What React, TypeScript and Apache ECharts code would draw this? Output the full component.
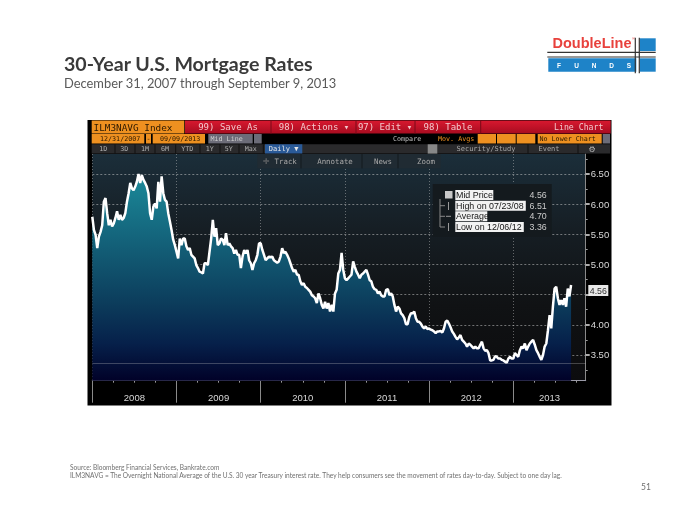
import React, { useEffect, useRef } from "react";
import * as echarts from "echarts";

const rates2008 = [5.79,5.57,5.49,5.27,5.46,5.54,5.65,6.04,6.10,5.85,5.65,5.74,5.63,5.68,5.77,5.88,5.74,5.82,5.74,5.77,5.85,6.04,6.18,6.35,6.26,6.23,6.29,6.37,6.50,6.35,6.48,6.40,6.35,6.29,6.18,5.85,5.74,5.96,6.01,5.93,6.37,6.04,6.46,6.18,6.07,6.04,5.85,5.71,5.57,5.41,5.32];
const rates2009 = [5.21,5.10,5.43,5.32,5.43,5.43,5.30,5.24,5.27,5.16,5.13,5.10,4.99,4.94,4.88,4.87,4.85,5.02,5.02,4.99,5.21,5.43,5.74,5.46,5.60,5.32,5.35,5.43,5.41,5.32,5.52,5.32,5.35,5.30,5.27,5.18,5.24,5.16,5.16,4.94,5.13,5.24,5.18,5.24,5.07,5.02,4.91,5.02,5.07,5.16,5.35];
const rates2010 = [5.35,5.24,5.16,5.07,5.10,5.13,5.12,5.13,5.07,5.05,5.03,5.05,5.13,5.27,5.19,5.21,5.16,5.10,5.02,4.94,4.88,4.91,4.83,4.83,4.72,4.66,4.69,4.63,4.61,4.58,4.55,4.49,4.47,4.44,4.36,4.52,4.44,4.33,4.27,4.38,4.27,4.36,4.22,4.33,4.22,4.52,4.58,4.85,4.91,5.19,4.91];
const rates2011 = [4.77,4.74,4.77,4.80,4.83,5.05,4.96,4.88,4.83,4.77,4.83,4.85,4.88,4.91,4.83,4.74,4.72,4.63,4.59,4.58,4.52,4.55,4.49,4.47,4.47,4.58,4.59,4.49,4.52,4.47,4.33,4.22,4.30,4.27,4.19,4.16,4.11,4.01,4.01,4.13,4.19,4.19,4.22,4.11,4.05,4.05,4.02,3.97,3.94,3.97,3.93];
const rates2012 = [3.94,3.92,3.91,3.89,3.86,3.89,3.89,3.90,3.87,3.94,4.05,4.07,4.02,3.96,3.89,3.85,3.80,3.76,3.79,3.83,3.75,3.72,3.69,3.64,3.69,3.67,3.64,3.61,3.64,3.61,3.61,3.67,3.72,3.61,3.57,3.58,3.53,3.41,3.41,3.42,3.48,3.47,3.44,3.44,3.42,3.41,3.39,3.37,3.44,3.47,3.44];
const rates2013 = [3.44,3.53,3.50,3.47,3.58,3.64,3.61,3.69,3.58,3.64,3.69,3.72,3.75,3.67,3.58,3.53,3.47,3.42,3.50,3.64,3.69,3.91,4.16,3.94,4.30,4.60,4.63,4.44,4.33,4.41,4.33,4.44,4.30,4.60,4.47,4.66];
const years = [2008, 2009, 2010, 2011, 2012, 2013];
const yearRates = [rates2008, rates2009, rates2010, rates2011, rates2012, rates2013];
const yearLabelAt = [2008.5, 2009.5, 2010.5, 2011.5, 2012.5, 2013.43];
const quarterTicks = [2008.25,2008.5,2008.75,2009.25,2009.5,2009.75,2010.25,2010.5,2010.75,2011.25,2011.5,2011.75,2012.25,2012.5,2012.75,2013.25,2013.5,2013.75];
const priceTicks = [3.5, 4, 4.5, 5, 5.5, 6, 6.5];
const priceLabels = [3.5, 4, 5, 5.5, 6, 6.5];
const priceMinorTicks = [3.25, 3.75, 4.25, 4.75, 5.25, 5.75, 6.25, 6.75];
const lowRate = 3.36;
const lastRate = "4.56";
const statRows = [
  ["Mid Price", "4.56"],
  ["High on 07/23/08", "6.51"],
  ["Average", "4.70"],
  ["Low on 12/06/12", "3.36"],
];
const statWidths = [38, 70.5, 32, 68.5];
const statRowY = [195, 205.7, 216.3, 227];
const rangeTabs: [string, number][] = [["1D",103.3],["3D",124.3],["1M",145],["6M",165],["YTD",187.3],["1Y",209.7],["5Y",228.7],["Max",250.7]];
const rangeSeps = [115,135,155,175.7,200,220,239,263.3];

const mono = '"DejaVu Sans Mono", monospace';
const sans = '"Liberation Sans", Arial, sans-serif';
const lato = 'Lato, "Open Sans", sans-serif';

const txt = (text: string, x: number, y: number, fill: string, font: string, textAlign = "left", extra: any = {}) => ({
  type: "text", x, y, z: 20, silent: true,
  style: { text, fill, font, textAlign, textVerticalAlign: "middle", ...extra },
});
const box = (x: number, y: number, w: number, h: number, fill: any, z = 10) => ({
  type: "rect", z, silent: true, shape: { x, y, width: w, height: h }, style: { fill },
});
const ln = (x1: number, y1: number, x2: number, y2: number, stroke: string, lineWidth = 1, z = 21) => ({
  type: "line", z, silent: true, shape: { x1, y1, x2, y2 }, style: { stroke, lineWidth },
});
const vgrad = (stops: string[]) =>
  new echarts.graphic.LinearGradient(0, 0, 0, 1, stops.map((color, i) => ({ offset: i / (stops.length - 1), color })));

const orange = "#ee9020";
const redBar = vgrad(["#d8182f", "#a80c20"]);

const chrome: any[] = [
  // slide
  txt("30-Year U.S. Mortgage Rates", 64, 63, "#3a3a3a", `bold 19.6px ${lato}`),
  txt("December 31, 2007 through September 9, 2013", 64, 83, "#5a5a5a", `12.9px ${lato}`),
  txt("Source: Bloomberg Financial Services, Bankrate.com", 70, 467, "#707070", `6.55px ${lato}`),
  txt("ILM3NAVG = The Overnight National Average of the U.S. 30 year Treasury interest rate. They help consumers see the movement of rates day-to-day. Subject to one day lag.", 70, 475, "#707070", `6.55px ${lato}`),
  txt("51", 641, 487, "#707070", `8.5px ${lato}`),
  // logo
  txt("DoubleLine", 552.5, 43, "#e8413c", `bold 14.5px ${sans}`),
  txt("®", 632, 38.5, "#e8413c", `4px ${sans}`),
  box(640, 38.3, 15.7, 12.7, "#1e83c8"),
  box(548.3, 58.3, 88, 13.4, "#1e83c8"),
  box(640, 58.3, 15.7, 13.4, "#1e83c8"),
  ...["F", "U", "N", "D", "S"].map((c, i) => txt(c, 559 + i * 17.5, 65, "#ffffff", `bold 6.5px ${sans}`, "center")),
  ln(547.3, 52.3, 655.7, 52.3, "#333333", 1.2),
  ln(547.3, 57, 655.7, 57, "#333333", 1.2),
  ln(635.3, 37.7, 635.3, 73.3, "#333333", 1.2),
  ln(639.3, 37.7, 639.3, 73.3, "#333333", 1.2),
  // panel
  box(87.5, 120, 524, 285.5, "#000000", -5),
  // row 1
  box(91.7, 120.5, 92.6, 13, orange),
  txt("ILM3NAVG Index", 93.5, 127.3, "#2a1800", `9.4px ${mono}`),
  box(185, 120.5, 425.7, 13, redBar),
  ln(271, 120.5, 271, 133.5, "#7a0a18"),
  ln(356, 120.5, 356, 133.5, "#7a0a18"),
  ln(415, 120.5, 415, 133.5, "#7a0a18"),
  ln(480.7, 120.5, 480.7, 133.5, "#7a0a18"),
  txt("99) Save As", 228, 127.3, "#f4c8cc", `9px ${mono}`, "center"),
  txt("98) Actions ▾", 314, 127.3, "#f4c8cc", `9px ${mono}`, "center"),
  txt("97) Edit ▾", 385, 127.3, "#f4c8cc", `9px ${mono}`, "center"),
  txt("98) Table", 448, 127.3, "#f4c8cc", `9px ${mono}`, "center"),
  txt("Line Chart", 578.7, 127.3, "#f4c8cc", `8.2px ${mono}`, "center"),
  // row 2
  box(91.7, 134, 52.6, 9.5, orange),
  box(146, 134, 5, 9.5, orange),
  box(152.7, 134, 52.3, 9.5, orange),
  box(208.3, 134, 44.4, 9.5, "#6c6c78"),
  box(254, 134, 7.7, 9.5, "#6c6c78"),
  txt("12/31/2007", 100, 138.8, "#2a1800", `6.7px ${mono}`),
  txt("-", 148.5, 138.8, "#2a1800", `6.7px ${mono}`, "center"),
  txt("09/09/2013", 160, 138.8, "#2a1800", `6.7px ${mono}`),
  txt("Mid Line", 210.5, 138.8, "#d0d0d0", `6.7px ${mono}`),
  txt("Compare", 393, 138.8, "#c0c0c0", `6.7px ${mono}`),
  txt("Mov. Avgs", 438, 138.8, orange, `6.7px ${mono}`),
  box(477.7, 134, 18.3, 9.5, orange),
  box(497, 134, 18.7, 9.5, orange),
  box(516.7, 134, 18.6, 9.5, orange),
  box(537.7, 134, 64, 9.5, orange),
  txt("No Lower Chart", 539.5, 138.8, "#2a1800", `6.7px ${mono}`),
  box(602.7, 134, 7.3, 9.5, "#6c6c78"),
  // row 3
  box(91.7, 144.3, 518.3, 9.3, "#2a2a2c"),
  ...rangeTabs.map(([s, x]) => txt(s, x, 149, "#b0b0b0", `6.7px ${mono}`, "center")),
  ...rangeSeps.map((x) => ln(x, 144.3, x, 153.6, "#111111")),
  box(265, 144.3, 37.3, 9.3, "#2a5a98"),
  txt("Daily ▼", 283.6, 149, "#e8e8e8", `7px ${mono}`, "center"),
  box(427.7, 144.3, 9.6, 9.3, "#888888"),
  txt("Security/Study", 486, 149, "#a8a8a8", `7px ${mono}`, "center"),
  txt("Event", 549, 149, "#a8a8a8", `7px ${mono}`, "center"),
  txt("⚙", 592, 149, "#b8b8b8", `8px "DejaVu Sans"`, "center"),
  ln(528, 144.3, 528, 153.6, "#111111"),
  ln(578, 144.3, 578, 153.6, "#111111"),
  // toolbar popup
  box(257.3, 154, 183.4, 14.3, "#202b33"),
  ln(301, 154, 301, 168.3, "#131a1f"),
  ln(362, 154, 362, 168.3, "#131a1f"),
  ln(398, 154, 398, 168.3, "#131a1f"),
  txt("✛", 266, 161, "#777777", `8px "DejaVu Sans"`, "center"),
  txt("Track", 285.7, 161, "#a8a8a8", `7.4px ${mono}`, "center"),
  txt("Annotate", 335, 161, "#a8a8a8", `7.4px ${mono}`, "center"),
  txt("News", 383, 161, "#a8a8a8", `7.4px ${mono}`, "center"),
  txt("Zoom", 426, 161, "#a8a8a8", `7.4px ${mono}`, "center"),
  // stats box
  box(432.7, 184, 119, 52.7, "#141a1e"),
  box(445, 191, 7.5, 7.5, "#c8c8c8", 11),
  ln(440, 199, 440, 227, "#888888"),
  ln(440, 205.7, 445, 205.7, "#888888"),
  ln(440, 216.3, 445, 216.3, "#888888"),
  ln(440, 227, 445, 227, "#888888"),
  ln(448.5, 202, 448.5, 210, "#999999"),
  ln(446, 216.3, 451, 216.3, "#999999"),
  ln(448.5, 223, 448.5, 231, "#999999"),
  ...statRows.flatMap(([label, val], i) => [
    box(455.3, statRowY[i] - 5, statWidths[i], 10, "#f2f2f2", 11),
    txt(label, 456, statRowY[i], "#151515", `8.9px ${sans}`),
    txt(val, 546.7, statRowY[i], "#cccccc", `8.8px ${sans}`, "right"),
  ]),
  // last-value flag
  box(588.3, 285, 20, 11, "#e8e8e8"),
  txt(lastRate, 598.3, 290.7, "#303030", `8.8px ${sans}`, "center"),
];

const axisText = "#d8d8d8";
const rates = yearRates.flatMap((values, y) => values.map((v, i) => [years[y] + i / 51, v]));

export default function App() {
  const ref = useRef<HTMLDivElement>(null);
  useEffect(() => {
    const chart = echarts.init(ref.current!, undefined, { renderer: "svg" });
    const xRange = { type: "value", min: 2008, max: 2013.86, scale: true, position: "bottom" };
    const yRange = { type: "value", min: 3.074, max: 6.83, position: "right", scale: true };
    chart.setOption({
      animation: false,
      backgroundColor: "#ffffff",
      graphic: { elements: chrome },
      grid: {
        show: true, left: 92.3, right: 114.3, top: 154, bottom: 144.3, borderWidth: 0,
        backgroundColor: vgrad(["#1b2e3a", "#161e24", "#101214", "#0c0c0e"]),
      },
      xAxis: [
        {
          ...xRange,
          axisLine: { show: true, onZero: false, lineStyle: { color: "#9a9aa8", width: 1 } },
          axisTick: { show: true, customValues: years, length: 22, lineStyle: { color: "#8a8a8a" } },
          axisLabel: { show: false },
          splitLine: { show: true, lineStyle: { color: "rgba(200,200,200,0.45)", type: [1, 2], width: 1 } },
        },
        {
          ...xRange,
          axisLine: { show: false },
          axisTick: { show: true, customValues: quarterTicks, length: 2, lineStyle: { color: "#9a9a9a" } },
          axisLabel: {
            show: true, customValues: yearLabelAt, margin: 12, color: axisText,
            fontFamily: sans, fontSize: 9.5, formatter: (v: number) => String(Math.floor(v)),
          },
          splitLine: { show: false },
        },
      ],
      yAxis: [
        {
          ...yRange,
          axisLine: { show: true, onZero: false, lineStyle: { color: "#8a8a8a", width: 1 } },
          axisTick: { show: true, customValues: priceTicks, length: 4, lineStyle: { color: "#e8e8e8", width: 1.5 } },
          axisLabel: {
            show: true, customValues: priceLabels, margin: 5, color: axisText,
            fontFamily: sans, fontSize: 9.5, formatter: (v: number) => v.toFixed(2),
          },
          splitLine: { show: true, lineStyle: { color: "rgba(210,210,210,0.5)", type: [2, 2], width: 1 } },
        },
        {
          ...yRange,
          axisLine: { show: false },
          axisTick: { show: true, customValues: priceMinorTicks, length: 2, lineStyle: { color: "#9a9a9a" } },
          axisLabel: { show: false },
          splitLine: { show: false },
        },
      ],
      series: [
        {
          type: "line",
          xAxisIndex: 0,
          yAxisIndex: 0,
          data: rates,
          showSymbol: false,
          symbol: "none",
          lineStyle: { color: "#ffffff", width: 2.5 },
          areaStyle: {
            origin: "start",
            opacity: 1,
            color: new echarts.graphic.LinearGradient(0, 174, 0, 381, [
              { offset: 0, color: "#1b8a9a" },
              { offset: 0.42, color: "#115670" },
              { offset: 0.62, color: "#0c3d5c" },
              { offset: 0.82, color: "#06204a" },
              { offset: 1, color: "#010128" },
            ], true),
          },
          markLine: {
            silent: true, symbol: "none", label: { show: false },
            lineStyle: { color: "rgba(200,200,200,0.3)", type: "solid", width: 1 },
            data: [{ yAxis: lowRate }],
          },
        },
      ],
    });
    return () => chart.dispose();
  }, []);
  return <div ref={ref} style={{ position: "fixed", left: 0, top: 0, width: 700, height: 525, filter: "blur(0.35px)" }} />;
}
